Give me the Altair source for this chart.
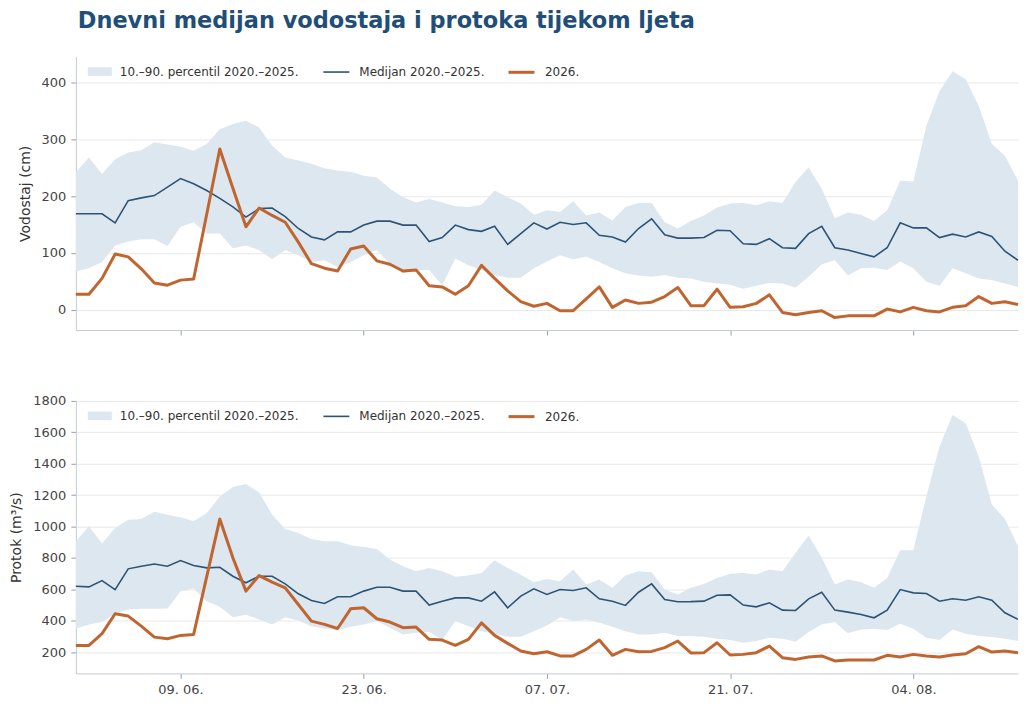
import altair as alt
import pandas as pd

# ---------------- data ----------------
start_date = "2026-06-01"
n_days = 73

band_label = "10.–90. percentil 2020.–2025."
med_label = "Medijan 2020.–2025."
y26_label = "2026."

# Vodostaj (cm)
v_p10 = [67, 73, 84, 113, 120, 124, 124, 112, 146, 154, 134, 134, 108, 113, 105, 89, 105, 96, 84, 87, 75, 84,
         96, 105, 81, 64, 70, 70, 43, 90, 78, 70, 61, 56, 56, 73, 85, 96, 89, 93, 84, 73, 64, 60, 58, 61, 56, 55,
         49, 46, 44, 37, 42, 47, 46, 39, 58, 80, 87, 60, 73, 74, 70, 85, 73, 49, 42, 73, 64, 55, 52, 46, 40]
v_p90 = [242, 268, 239, 265, 277, 281, 295, 291, 287, 280, 292, 318, 327, 333, 321, 289, 268, 263, 257, 249, 245, 243,
         236, 233, 213, 198, 189, 195, 189, 182, 181, 185, 210, 198, 187, 167, 175, 172, 191, 166, 171, 157, 181, 188, 188, 154, 143, 156,
         166, 180, 187, 188, 184, 191, 188, 225, 251, 213, 161, 171, 167, 156, 175, 227, 226, 324, 385, 420, 406, 359, 292, 271, 227]
v_med = [169, 169, 169, 153, 192, 197, 201, 216, 231, 222, 210, 196, 181, 163, 178, 179, 164, 143, 128, 123, 137, 137,
         149, 156, 156, 149, 149, 120, 127, 149, 141, 138, 147, 115, 134, 153, 142, 154, 150, 153, 131, 128, 119, 143, 160, 132, 126, 126,
         127, 140, 139, 116, 115, 125, 109, 108, 134, 147, 109, 105, 99, 93, 109, 153, 144, 144, 127, 133, 128, 137, 129, 103, 87]
v_2026 = [27, 27, 55, 98, 93, 72, 47, 43, 52, 54, 168, 283, 214, 146, 179, 166, 154, 119, 81, 73, 68, 107,
          112, 86, 80, 68, 70, 42, 40, 27, 42, 78, 55, 33, 14, 6, 11, -2, -2, 19, 40, 4, 17, 11, 13, 23, 39, 7,
          7, 36, 4, 5, 11, 26, -5, -9, -5, -2, -14, -11, -11, -11, 1, -4, 4, -2, -4, 4, 7, 23, 11, 14, 9]

# Protok (m3/s)
q_p10 = [348, 376, 391, 446, 471, 475, 475, 478, 588, 605, 524, 488, 422, 437, 408, 376, 422, 401, 365, 348, 340, 361,
         376, 397, 355, 312, 323, 329, 276, 397, 365, 333, 317, 297, 297, 333, 369, 422, 397, 408, 386, 361, 333, 312, 312, 323, 302, 302,
         297, 285, 276, 259, 270, 291, 285, 266, 327, 376, 391, 319, 344, 348, 340, 380, 348, 291, 276, 344, 317, 302, 295, 285, 270]
q_p90 = [905, 1001, 891, 990, 1043, 1047, 1094, 1075, 1058, 1033, 1085, 1191, 1251, 1270, 1217, 1075, 984, 958, 920, 905, 905, 880,
         869, 857, 789, 747, 715, 736, 715, 679, 687, 704, 785, 736, 693, 645, 666, 651, 725, 630, 662, 609, 687, 715, 708, 598, 567, 610,
         634, 672, 698, 704, 694, 725, 715, 831, 942, 800, 630, 662, 645, 609, 672, 848, 848, 1192, 1509, 1710, 1658, 1446, 1139, 1047, 874]
q_med = [619, 615, 655, 598, 730, 747, 761, 747, 783, 751, 736, 740, 683, 641, 683, 683, 634, 571, 528, 509, 552, 552,
         588, 613, 613, 588, 588, 499, 524, 545, 545, 524, 583, 482, 556, 603, 567, 598, 592, 609, 539, 524, 497, 581, 634, 535, 520, 521,
         524, 562, 564, 499, 488, 514, 467, 465, 539, 581, 467, 454, 439, 418, 467, 598, 577, 573, 524, 539, 530, 552, 530, 450, 408]
q_2026 = [242, 242, 317, 444, 429, 365, 295, 285, 306, 312, 680, 1047, 800, 588, 687, 645, 609, 503, 397, 376, 350, 475,
          482, 412, 391, 355, 359, 281, 276, 242, 281, 386, 306, 255, 206, 189, 202, 175, 175, 217, 276, 179, 217, 202, 204, 228, 270, 194,
          196, 259, 181, 185, 196, 238, 164, 153, 168, 175, 143, 149, 149, 149, 179, 168, 185, 175, 168, 181, 189, 234, 200, 206, 196]

tick_days = [(6, 9), (6, 23), (7, 7), (7, 21), (8, 4)]
v_ticks = [0, 100, 200, 300, 400]
q_ticks = [200, 400, 600, 800, 1000, 1200, 1400, 1600, 1800]

# ---------------- styling ----------------
BAND = "#dde7f0"
MED = "#2d5475"
ORANGE = "#c0652f"
FONT = "DejaVu Sans"
W, H = 944, 274

dates = pd.date_range(start_date, periods=n_days, freq="D")


def make_frames(p10, p90, med, y26):
    wide = pd.DataFrame({"date": dates, "p10": p10, "p90": p90, "band": band_label})
    long = pd.concat([
        pd.DataFrame({"date": dates, "value": med, "series": med_label}),
        pd.DataFrame({"date": dates, "value": y26, "series": y26_label}),
    ], ignore_index=True)
    return wide, long


x_scale = alt.Scale(domain=[alt.DateTime(year=2026, month=6, date=1),
                            alt.DateTime(year=2026, month=8, date=12)], nice=False)
x_values = [alt.DateTime(year=2026, month=m, date=d) for m, d in tick_days]


def panel(p10, p90, med, y26, ytitle, ydomain, yvalues, show_labels, height):
    wide, long = make_frames(p10, p90, med, y26)
    x = alt.X("date:T", scale=x_scale,
              axis=alt.Axis(values=x_values, format="%d. %m.", labels=show_labels,
                            title=None, grid=False, tickSize=5, labelPadding=5))
    y_scale = alt.Scale(domain=ydomain, nice=False, zero=False)
    y_axis = alt.Axis(values=yvalues, format="d", labelOverlap=False, title=ytitle,
                      grid=True, tickSize=5, labelPadding=5, titlePadding=9)
    band = alt.Chart(wide).mark_area(opacity=1, strokeWidth=0).encode(
        x=x,
        y=alt.Y("p10:Q", scale=y_scale, axis=y_axis),
        y2="p90:Q",
        fill=alt.Fill("band:N", scale=alt.Scale(domain=[band_label], range=[BAND]),
                      legend=alt.Legend(title=None, orient="none", legendX=12, legendY=3,
                                        symbolType="M-1,-0.36H1V0.36H-1Z", symbolSize=576,
                                        symbolStrokeWidth=0, labelOffset=8, padding=0,
                                        labelLimit=0,
                                        labelFont=FONT, labelFontSize=12, labelColor="#333")),
    )
    stroke_legend = alt.Legend(title=None, orient="none", legendX=247, legendY=1,
                               direction="horizontal", symbolType="stroke", symbolSize=676,
                               labelOffset=9, columnPadding=17, padding=0, labelLimit=0,
                               labelFont=FONT, labelFontSize=12, labelColor="#333")
    enc = dict(
        x=x,
        y=alt.Y("value:Q", scale=y_scale, axis=y_axis),
        stroke=alt.Stroke("series:N", scale=alt.Scale(domain=[med_label, y26_label], range=[MED, ORANGE]),
                          legend=stroke_legend),
        strokeWidth=alt.StrokeWidth("series:N", scale=alt.Scale(domain=[med_label, y26_label], range=[1.6, 3.0]),
                                    legend=stroke_legend),
    )
    med_line = alt.Chart(long).transform_filter(alt.datum.series == med_label).mark_line().encode(**enc)
    y26_line = alt.Chart(long).transform_filter(alt.datum.series == y26_label).mark_line(strokeJoin="round").encode(**enc)
    return alt.layer(band, med_line, y26_line).properties(width=W, height=height)


top = panel(v_p10, v_p90, v_med, v_2026, "Vodostaj (cm)", [-36, 446], v_ticks, False, H)
bottom = panel(q_p10, q_p90, q_med, q_2026, "Protok (m³/s)", [64, 1800], q_ticks, True, H - 1)

chart = alt.vconcat(top, bottom, spacing=59).resolve_scale(
    y="independent", fill="independent", stroke="independent", strokeWidth="independent"
).resolve_legend(
    fill="independent", stroke="independent", strokeWidth="independent"
).properties(
    title=alt.TitleParams("Dnevni medijan vodostaja i protoka tijekom ljeta", anchor="start",
                          font=FONT, fontSize=22.5, fontWeight="bold", color="#1f4e79",
                          offset=24, dx=68),
    padding={"left": 1, "top": 1, "right": 0, "bottom": 0},
).configure_view(strokeWidth=0).configure_axis(
    labelFont=FONT, labelFontSize=13, labelColor="#444",
    titleFont=FONT, titleFontSize=14, titleFontWeight="normal", titleColor="#333",
    gridColor="#e8e8e8", domainColor="#c5cad2", tickColor="#9aa0a8",
)

chart.save("out.html", embed_options={"renderer": "svg", "actions": False})
